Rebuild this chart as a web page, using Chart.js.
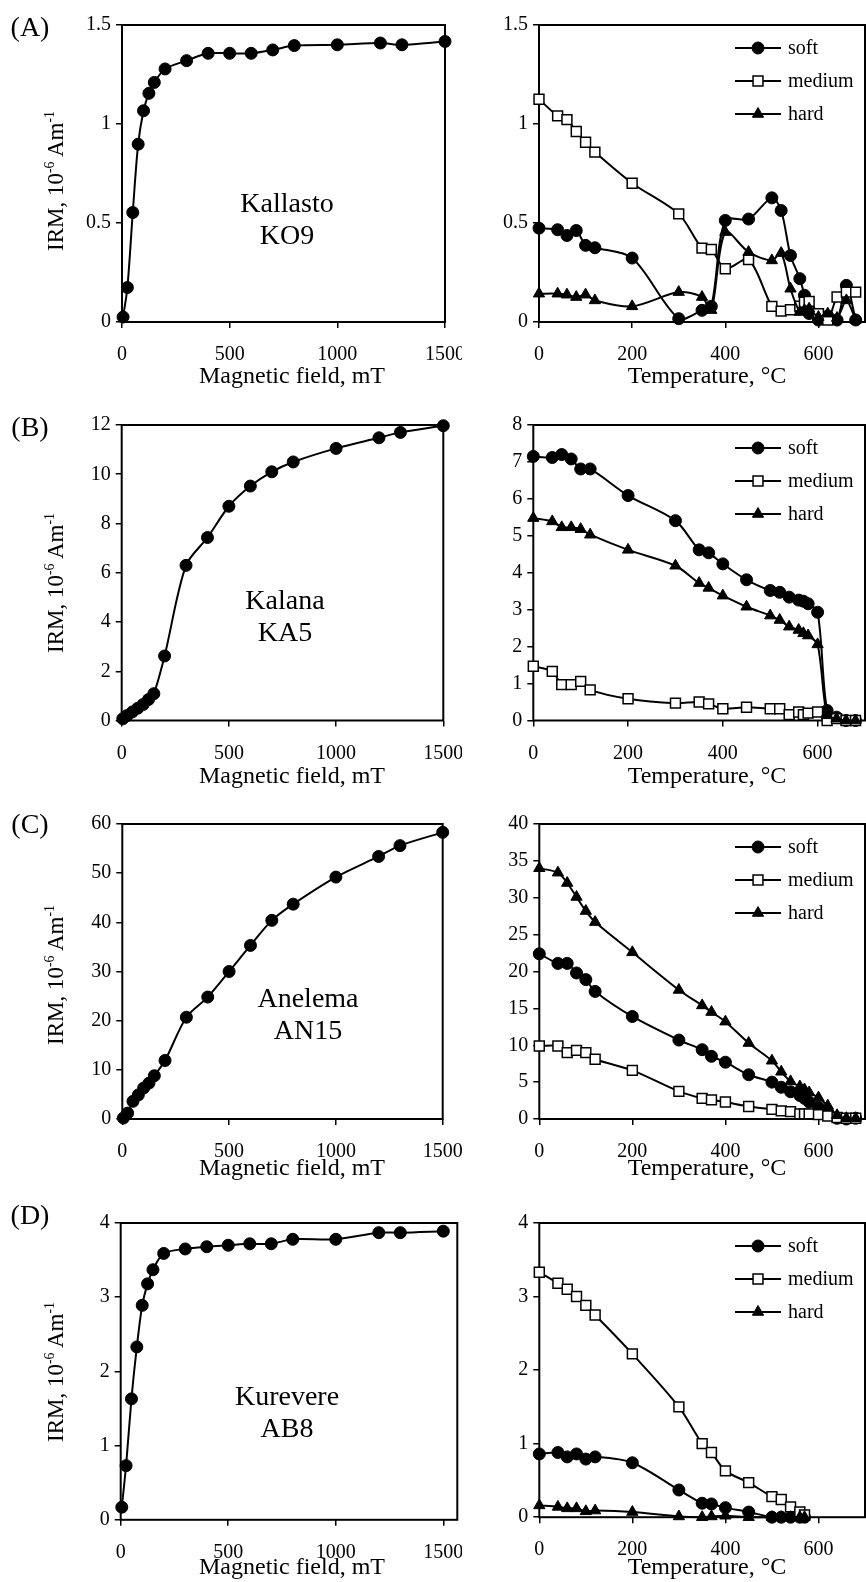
<!DOCTYPE html>
<html lang="en">
  <head>
    <meta charset="UTF-8" />
    <title>IRM acquisition and thermal demagnetisation</title>
    <script src="https://cdn.jsdelivr.net/npm/chart.js"></script>
    <style>
      body { margin: 0; background: #fff; }
      #fig { position: relative; width: 866px; height: 1582px; overflow: hidden; background: #fff; }
      #fig canvas { position: absolute; }
      .txt { position: absolute; transform: translate(-50%, -50%); white-space: nowrap;
             font-family: 'Liberation Serif', 'Times New Roman', serif; color: #000; line-height: 1; z-index: 5; }
      .ytitle { transform: translate(-50%, -50%) rotate(-90deg); font-size: 23px; }
      .ytitle sup { font-size: 60%; vertical-align: super; line-height: 0; }
      .xtitle { font-size: 24px; }
      .tag { font-size: 28px; }
      .site { font-size: 28px; text-align: center; line-height: 32px; }
    </style>
  </head>
  <body>
    <div id="fig"></div>

    <script>
      // IRM acquisition: applied field (mT)
      const fieldLevels = [5, 25, 50, 75, 100, 125, 150, 200, 300, 400, 500, 600, 700, 800, 1000, 1200, 1300, 1500];
      const irmKallasto = [0.025, 0.174, 0.553, 0.898, 1.067, 1.155, 1.21, 1.278, 1.32, 1.357, 1.357, 1.357, 1.374, 1.396, 1.4, 1.409, 1.4, 1.417];
      const irmKalana = [0.07, 0.2, 0.35, 0.5, 0.65, 0.85, 1.09, 2.62, 6.3, 7.43, 8.7, 9.52, 10.1, 10.5, 11.05, 11.48, 11.7, 11.97];
      const irmAnelema = [0.2, 1.2, 3.6, 4.9, 6.3, 7.3, 8.8, 11.9, 20.7, 24.8, 30.0, 35.3, 40.4, 43.7, 49.2, 53.4, 55.6, 58.3];
      const irmKurevere = [0.17, 0.73, 1.63, 2.33, 2.89, 3.18, 3.37, 3.59, 3.65, 3.68, 3.7, 3.72, 3.72, 3.78, 3.78, 3.87, 3.87, 3.89];

      // thermal demagnetisation of the three IRM components
      const temperatures = [0, 40, 60, 80, 100, 120, 200, 300, 350, 370, 400, 450, 500, 520, 540, 560, 570, 580, 600, 620, 640, 660, 680];
      const componentNames = ["soft", "medium", "hard"];

      const softKallasto = [0.474, 0.466, 0.437, 0.462, 0.387, 0.375, 0.323, 0.017, 0.059, 0.079, 0.513, 0.52, 0.627, 0.563, 0.336, 0.219, 0.135, 0.043, 0.01, 0.03, 0.01, 0.185, 0.01];
      const mediumKallasto = [1.125, 1.041, 1.022, 0.962, 0.908, 0.858, 0.701, 0.546, 0.373, 0.366, 0.269, 0.315, 0.079, 0.055, 0.062, 0.08, 0.1, 0.104, 0.042, 0.01, 0.126, 0.151, 0.151];
      const hardKallasto = [0.143, 0.143, 0.138, 0.126, 0.138, 0.109, 0.079, 0.151, 0.126, 0.06, 0.454, 0.353, 0.311, 0.348, 0.168, 0.05, 0.06, 0.067, 0.025, 0.042, 0.02, 0.109, 0.01];

      const softKalana = [7.15, 7.12, 7.2, 7.08, 6.81, 6.81, 6.09, 5.41, 4.62, 4.54, 4.24, 3.81, 3.52, 3.47, 3.34, 3.26, 3.23, 3.16, 2.93, 0.27, 0.09, 0.0, 0.0];
      const mediumKalana = [1.47, 1.33, 0.97, 0.97, 1.06, 0.83, 0.59, 0.47, 0.5, 0.45, 0.32, 0.36, 0.32, 0.32, 0.16, 0.23, 0.16, 0.2, 0.23, 0.0, 0.05, 0.0, 0.0];
      const hardKalana = [5.48, 5.39, 5.23, 5.23, 5.18, 5.03, 4.62, 4.19, 3.72, 3.59, 3.38, 3.08, 2.84, 2.72, 2.54, 2.45, 2.36, 2.3, 2.06, 0.14, 0.05, 0.0, 0.0];

      const softAnelema = [22.4, 21.1, 21.1, 19.8, 18.9, 17.3, 13.9, 10.7, 9.4, 8.5, 7.7, 6.0, 5.0, 4.3, 3.7, 3.2, 2.8, 2.3, 1.6, 0.9, 0.1, 0.0, 0.1];
      const mediumAnelema = [9.9, 9.9, 9.0, 9.3, 9.0, 8.1, 6.6, 3.75, 2.8, 2.6, 2.3, 1.7, 1.3, 1.1, 1.0, 0.7, 0.7, 0.7, 0.6, 0.4, 0.2, 0.1, 0.1];
      const hardAnelema = [34.0, 33.4, 32.0, 30.1, 28.2, 26.7, 22.6, 17.5, 15.4, 14.5, 13.2, 10.3, 7.9, 6.4, 5.1, 4.4, 4.0, 3.6, 2.9, 1.8, 0.5, 0.1, 0.1];

      // Kurevere stops at 570 °C
      const softKurevere = [0.86, 0.88, 0.82, 0.86, 0.79, 0.82, 0.74, 0.37, 0.19, 0.18, 0.13, 0.07, 0.0, 0.0, 0.0, 0.0, 0.0];
      const mediumKurevere = [3.33, 3.18, 3.1, 3.0, 2.88, 2.75, 2.22, 1.5, 1.0, 0.88, 0.63, 0.47, 0.28, 0.24, 0.14, 0.07, 0.03];
      const hardKurevere = [0.16, 0.14, 0.12, 0.12, 0.08, 0.09, 0.07, 0.01, 0.0, 0.01, 0.02, 0.0, 0.0, 0.0, 0.0, 0.0, 0.0];

      // tick labels
      const fieldTicks = [0, 500, 1000, 1500];
      const tempTicks = [0, 200, 400, 600];
      const irmTicksA = [0, 0.5, 1, 1.5];
      const irmTicksB = [0, 2, 4, 6, 8, 10, 12];
      const irmTicksC = [0, 10, 20, 30, 40, 50, 60];
      const irmTicksD = [0, 1, 2, 3, 4];
      const demagTicksA = [0, 0.5, 1, 1.5];
      const demagTicksB = [0, 1, 2, 3, 4, 5, 6, 7, 8];
      const demagTicksC = [0, 5, 10, 15, 20, 25, 30, 35, 40];
      const demagTicksD = [0, 1, 2, 3, 4];

      const fig = document.getElementById("fig");
      const FONT = "'Liberation Serif', 'Times New Roman', serif";
      const Y_AXIS_W = 70;
      const X_AXIS_H = 40;

      // frame round the plot area, drawn under the markers
      const framePlugin = {
        id: "frame",
        beforeDatasetsDraw(chart) {
          const { ctx, chartArea: a } = chart;
          ctx.save();
          ctx.strokeStyle = "#000";
          ctx.lineWidth = 2;
          ctx.strokeRect(a.left, a.top, a.right - a.left, a.bottom - a.top);
          ctx.restore();
        },
      };

      function drawMarker(ctx, style, r, x, y) {
        ctx.beginPath();
        if (style === "circle") {
          ctx.arc(x, y, r, 0, Math.PI * 2);
        } else if (style === "rect") {
          const s = r * Math.SQRT1_2;
          ctx.rect(x - s, y - s, 2 * s, 2 * s);
        } else {
          for (let k = 0; k < 3; k++) {
            const ang = (k * 2 * Math.PI) / 3;
            const px = x + Math.sin(ang) * r;
            const py = y - Math.cos(ang) * r;
            k === 0 ? ctx.moveTo(px, py) : ctx.lineTo(px, py);
          }
          ctx.closePath();
        }
        ctx.fill();
        ctx.stroke();
      }

      // legend box in the top right corner of the plot area
      const keyPlugin = {
        id: "key",
        afterDatasetsDraw(chart) {
          const { ctx, chartArea: a } = chart;
          const mx = a.right - 107;
          ctx.save();
          chart.data.datasets
            .slice()
            .sort((p, q) => componentNames.indexOf(p.label) - componentNames.indexOf(q.label))
            .forEach((ds, i) => {
              const y = a.top + 23 + 33 * i;
              ctx.strokeStyle = "#000";
              ctx.lineWidth = 2;
              ctx.beginPath();
              ctx.moveTo(mx - 23, y);
              ctx.lineTo(mx + 23, y);
              ctx.stroke();
              ctx.fillStyle = ds.pointBackgroundColor;
              ctx.lineWidth = ds.pointBorderWidth;
              drawMarker(ctx, ds.pointStyle, ds.pointRadius, mx, y);
              ctx.fillStyle = "#000";
              ctx.font = "20px " + FONT;
              ctx.textBaseline = "middle";
              ctx.fillText(ds.label, mx + 30, y + 1);
            });
          ctx.restore();
        },
      };

      function axis(min, max, ticks, isX) {
        return {
          type: "linear",
          min: min,
          max: max,
          afterBuildTicks: (s) => {
            s.ticks = ticks.map((v) => ({ value: v }));
          },
          afterFit: (s) => {
            if (isX) {
              s.height = X_AXIS_H;
              // the canvas already leaves room for the end labels
              s.paddingLeft = 0;
              s.paddingRight = 0;
            } else {
              s.width = Y_AXIS_W;
            }
          },
          border: { display: false },
          grid: { drawOnChartArea: false, color: "#000", lineWidth: 1.5, tickLength: 6 },
          ticks: {
            color: "#000",
            font: { family: "Liberation Serif", size: 20 },
            padding: isX ? 15 : 5,
            maxRotation: 0,
            autoSkip: false,
            callback: (v) => String(v),
          },
        };
      }

      function addCanvas(x, y, w, h, z) {
        const c = document.createElement("canvas");
        c.width = w;
        c.height = h;
        c.style.left = x + "px";
        c.style.top = y + "px";
        c.style.zIndex = z;
        c.style.background = "#fff";
        fig.appendChild(c);
        return c;
      }

      function makeChart(canvas, datasets, xs, ys, pad, withKey) {
        return new Chart(canvas, {
          type: "line",
          data: { datasets: datasets },
          options: {
            responsive: false,
            animation: false,
            devicePixelRatio: 1,
            layout: { padding: pad, autoPadding: false },
            plugins: { legend: { display: false }, tooltip: { enabled: false } },
            scales: { x: xs, y: ys },
          },
          plugins: withKey ? [framePlugin, keyPlugin] : [framePlugin],
        });
      }

      function pts(xv, yv) {
        return yv.map((v, i) => ({ x: xv[i], y: v }));
      }

      const markerStyle = {
        soft: { pointStyle: "circle", pointRadius: 6, pointBackgroundColor: "#000", pointBorderWidth: 1, order: 3 },
        medium: { pointStyle: "rect", pointRadius: 7, pointBackgroundColor: "#fff", pointBorderWidth: 1.5, order: 2 },
        hard: { pointStyle: "triangle", pointRadius: 6.5, pointBackgroundColor: "#000", pointBorderWidth: 1, order: 1 },
      };

      function series(name, xv, yv) {
        return Object.assign(
          {
            label: name,
            data: pts(xv, yv),
            borderColor: "#000",
            borderWidth: 2,
            tension: 0.3,
            pointBorderColor: "#000",
            pointHoverRadius: 0,
            clip: false,
          },
          markerStyle[name]
        );
      }

      const rows = [
        { tag: "(A)", site: "Kallasto<br>KO9", siteXY: [287, 219], tagY: 27, yTitleY: 181, xTitleY: 375,
          fieldBox: [122, 25, 445, 322], tempBox: [539, 25, 865, 322], fieldMax: 1500,
          irm: irmKallasto, irmTicks: irmTicksA, comps: [softKallasto, mediumKallasto, hardKallasto], demagTicks: demagTicksA },
        { tag: "(B)", site: "Kalana<br>KA5", siteXY: [285, 616], tagY: 427, yTitleY: 583, xTitleY: 775,
          fieldBox: [121.7, 424.5, 443.3, 720], tempBox: [533.3, 424.5, 865, 720], fieldMax: 1500,
          irm: irmKalana, irmTicks: irmTicksB, comps: [softKalana, mediumKalana, hardKalana], demagTicks: demagTicksB },
        { tag: "(C)", site: "Anelema<br>AN15", siteXY: [308, 1014], tagY: 824, yTitleY: 975, xTitleY: 1167,
          fieldBox: [122.3, 824, 442.7, 1119], tempBox: [539.3, 824, 865, 1119], fieldMax: 1500,
          irm: irmAnelema, irmTicks: irmTicksC, comps: [softAnelema, mediumAnelema, hardAnelema], demagTicks: demagTicksC },
        { tag: "(D)", site: "Kurevere<br>AB8", siteXY: [287, 1412], tagY: 1215, yTitleY: 1372, xTitleY: 1566,
          fieldBox: [120.7, 1222.5, 457.3, 1519.3], tempBox: [539.3, 1222.5, 865, 1516.7], fieldMax: 1565,
          irm: irmKurevere, irmTicks: irmTicksD, comps: [softKurevere, mediumKurevere, hardKurevere], demagTicks: demagTicksD },
      ];

      function addText(cls, html, x, y) {
        const d = document.createElement("div");
        d.className = "txt " + cls;
        d.innerHTML = html;
        d.style.left = x + "px";
        d.style.top = y + "px";
        fig.appendChild(d);
      }

      const RIGHT_COL = 462;

      rows.forEach((r) => {
        // IRM acquisition panel
        const [l, t, rr, b] = r.fieldBox;
        const fc = addCanvas(0, t - 20, Math.ceil(rr + 32), Math.ceil(b - t + 65), 1);
        makeChart(
          fc,
          [Object.assign(series("soft", fieldLevels, r.irm), { label: "IRM" })],
          axis(0, r.fieldMax, fieldTicks, true),
          axis(r.irmTicks[0], r.irmTicks[r.irmTicks.length - 1], r.irmTicks, false),
          { left: l - Y_AXIS_W, top: 20, right: fc.width - rr, bottom: fc.height - (b - t + 20) - X_AXIS_H }
        );

        // thermal demagnetisation panel
        const [l2, t2, r2, b2] = r.tempBox;
        const tc = addCanvas(RIGHT_COL, t2 - 20, 866 - RIGHT_COL, Math.ceil(b2 - t2 + 65), 2);
        makeChart(
          tc,
          componentNames.map((n, i) => series(n, temperatures, r.comps[i])),
          axis(0, 700, tempTicks, true),
          axis(r.demagTicks[0], r.demagTicks[r.demagTicks.length - 1], r.demagTicks, false),
          { left: l2 - RIGHT_COL - Y_AXIS_W, top: 20, right: tc.width - (r2 - RIGHT_COL), bottom: tc.height - (b2 - t2 + 20) - X_AXIS_H },
          true
        );

        addText("tag", r.tag, 30, r.tagY);
        addText("site", r.site, r.siteXY[0], r.siteXY[1]);
        addText("ytitle", "IRM, 10<sup>-6</sup> Am<sup>-1</sup>", 55, r.yTitleY);
        addText("xtitle", "Magnetic field, mT", 292, r.xTitleY);
        addText("xtitle", "Temperature, °C", 707, r.xTitleY);
      });
    </script>
  </body>
</html>
